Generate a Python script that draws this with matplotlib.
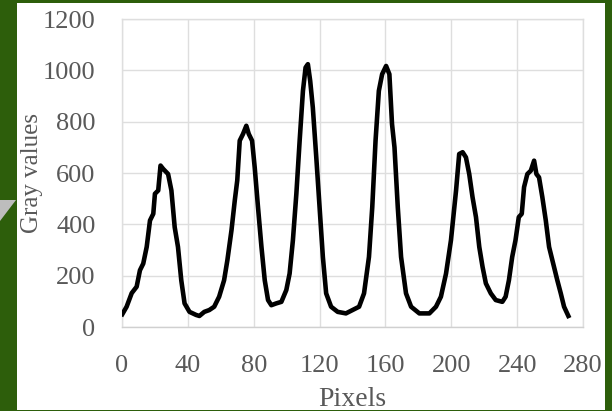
import matplotlib
matplotlib.use("Agg")
import matplotlib.pyplot as plt
from matplotlib.patches import Rectangle, Polygon

# ── Intensity profile ───────────────────────────────────────
pixels = [0.2, 2.8, 5.9, 8.9, 10.9, 12.9, 15, 17, 19, 20, 22, 23.4, 25, 28, 30,
          32, 34, 36, 38, 41, 45, 47, 50, 53, 56, 59, 62, 64, 66.5, 68.5, 70,
          71.5, 73.5, 75.5, 77, 79, 80.6, 82.6, 84.7, 86.7, 88.7, 90.7, 93.7,
          96.8, 99.8, 101.8, 103.8, 105.9, 107.9, 109.9, 111.5, 112.9, 114.3,
          115.9, 118, 120, 122, 124, 127, 131, 136, 140, 144, 147, 150, 152,
          154, 156, 158, 160.4, 162.4, 164, 165.5, 167.5, 169.5, 172.5, 175.6,
          180.6, 186.7, 190.7, 193.7, 196.8, 199.8, 202.9, 204.8, 206.9, 208.9,
          210.9, 212.9, 215, 217, 219, 221, 224, 227, 231, 233, 235, 237, 239,
          241, 242.8, 244.2, 246.2, 248.3, 250.3, 251.7, 253.3, 255.3, 257.4,
          259.4, 262.4, 264.4, 266.5, 268.5, 271.1]
gray = [50, 79, 132, 157, 221, 247, 312, 415, 441, 519, 532, 629, 616, 596, 532,
        389, 312, 182, 92, 59, 47, 43, 59, 66, 79, 118, 182, 260, 377, 493, 571,
        726, 752, 784, 752, 726, 622, 467, 312, 182, 105, 85, 92,
        98, 144, 208, 338, 519, 726, 920, 1011, 1024, 959,
        855, 661, 467, 273, 131, 79, 59, 53, 66, 79, 131, 273, 467,
        726, 920, 985, 1017, 985, 791, 700, 467, 273, 131, 79,
        53, 53, 79, 118, 208, 338, 532, 674, 681, 661,
        596, 506, 428, 312, 234, 170, 131, 105, 98, 118, 182, 273, 338,
        428, 441, 545, 596, 609, 648, 596, 583, 506, 415,
        312, 234, 182, 131, 79, 43]

x_ticks = [0, 40, 80, 120, 160, 200, 240, 280]
y_ticks = [0, 200, 400, 600, 800, 1000, 1200]

W, H = 612, 411
fig = plt.figure(figsize=(W / 100, H / 100), dpi=100)
fig.patch.set_facecolor("#2d5e0b")

# white slide panel + little grey arrow on the left edge
fig.patches.append(Rectangle((17 / W, 1 / H), (605 - 17) / W, (408 - 1) / H,
                             transform=fig.transFigure, fc="white", ec="none", zorder=-2))
fig.patches.append(Polygon([(0, 1 - 200 / H), (16 / W, 1 - 200 / H), (0, 1 - 221 / H)],
                           closed=True, transform=fig.transFigure,
                           fc="#bdbdbd", ec="none", zorder=-2))

ax = fig.add_axes([122 / W, 1 - 327 / H, (583 - 122) / W, (327 - 19) / H])
ax.set_zorder(1)
ax.set_facecolor("white")
ax.plot(pixels, gray, color="black", lw=3.3, solid_joinstyle="round", zorder=3)

ax.set_xlim(0, 280)
ax.set_ylim(0, 1200)
ax.set_xticks(x_ticks)
ax.set_yticks(y_ticks)
ax.grid(True, color="#dedede", lw=1)
ax.set_axisbelow(True)
for s in ax.spines.values():
    s.set_color("#dedede")
    s.set_linewidth(1)
ax.spines["bottom"].set_color("#d0d0d0")

ax.tick_params(length=0, colors="#595959")
ax.tick_params(axis="y", pad=19)
ax.tick_params(axis="x", pad=20)
for lbl in ax.get_xticklabels() + ax.get_yticklabels():
    lbl.set_fontfamily("Liberation Serif")
    lbl.set_fontsize(19)
ax.set_xlabel("Pixels", labelpad=7, family="Liberation Serif", size=20, color="#595959")
ax.set_ylabel("Gray values", family="Liberation Serif", size=18, color="#595959")
ax.yaxis.set_label_coords(-0.172, 0.5)

fig.savefig("out.png", dpi=100, facecolor=fig.get_facecolor())
